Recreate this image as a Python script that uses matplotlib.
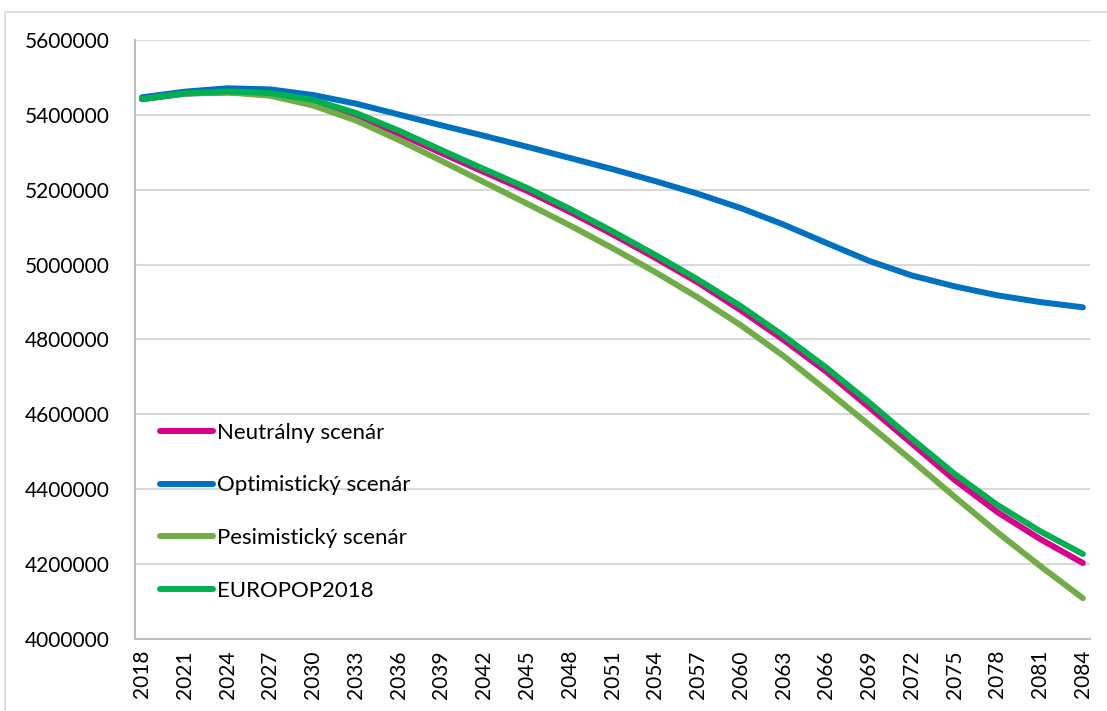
import matplotlib
matplotlib.use("Agg")
import matplotlib.pyplot as plt
from matplotlib.patches import Rectangle

plt.rcParams['font.family'] = ['Lato', 'DejaVu Sans']

years = [2018, 2021, 2024, 2027, 2030, 2033, 2036, 2039, 2042, 2045, 2048, 2051,
         2054, 2057, 2060, 2063, 2066, 2069, 2072, 2075, 2078, 2081, 2084]

neutralny = [5442000, 5457000, 5460000, 5455000, 5435000, 5397000, 5350000, 5298000,
             5247000, 5197000, 5141000, 5081000, 5018000, 4952000, 4878000, 4799000,
             4714000, 4619000, 4522000, 4425000, 4339000, 4267000, 4203000]

optimisticky = [5447000, 5462000, 5471000, 5468000, 5453000, 5430000, 5401000, 5372000,
                5344000, 5315000, 5285000, 5255000, 5223000, 5189000, 5151000, 5107000,
                5058000, 5010000, 4971000, 4942000, 4918000, 4900000, 4886000]

pesimisticky = [5442000, 5457000, 5460000, 5451000, 5425000, 5385000, 5333000, 5277000,
                5220000, 5163000, 5105000, 5044000, 4980000, 4912000, 4838000, 4756000,
                4665000, 4572000, 4477000, 4380000, 4285000, 4195000, 4109000]

europop = [5442000, 5457000, 5463000, 5458000, 5440000, 5405000, 5358000, 5306000,
           5255000, 5205000, 5149000, 5089000, 5026000, 4960000, 4889000, 4810000,
           4725000, 4632000, 4535000, 4441000, 4358000, 4288000, 4227000]

series = [
    ("Neutrálny scenár", neutralny, "#D9008D"),
    ("Optimistický scenár", optimisticky, "#0070C0"),
    ("Pesimistický scenár", pesimisticky, "#70AD47"),
    ("EUROPOP2018", europop, "#00B050"),
]

y_ticks = [4000000, 4200000, 4400000, 4600000, 4800000, 5000000, 5200000, 5400000, 5600000]

W, H = 1107, 711
fig = plt.figure(figsize=(W / 100, H / 100), dpi=100)
fig.patch.set_facecolor("white")

# outer chart frame
fig.add_artist(Rectangle((5 / W, -0.01), 1.02, (H - 12) / H + 0.01,
                         transform=fig.transFigure, fill=False,
                         edgecolor="#D9D9D9", linewidth=1.2))

ax = fig.add_axes([135 / W, (H - 639) / H, (1090 - 135) / W, (639 - 40) / H])

for label, vals, color in series:
    ax.plot(years, vals, color=color, linewidth=4.3, label=label,
            solid_capstyle="round", solid_joinstyle="round")

ax.set_xlim(2017.5, 2084.5)
ax.set_ylim(4000000, 5600000)
ax.set_yticks(y_ticks)
ax.set_yticklabels([str(v) for v in y_ticks])
ax.set_xticks(years)
ax.set_xticklabels([str(y) for y in years], rotation=90)

ax.grid(axis="y", color="#D9D9D9", linewidth=1.5)
ax.set_axisbelow(True)
ax.tick_params(axis="both", length=0, labelsize=15, colors="black")
ax.tick_params(axis="y", pad=18)
ax.tick_params(axis="x", pad=8)

for side in ("top", "right"):
    ax.spines[side].set_visible(False)
for side in ("left", "bottom"):
    ax.spines[side].set_color("#BFBFBF")
    ax.spines[side].set_linewidth(1.5)

leg = ax.legend(loc="upper left", bbox_to_anchor=(0.026, 0.361), frameon=False,
                fontsize=16, handlelength=2.39, handletextpad=0.18,
                labelspacing=1.47, borderpad=0, borderaxespad=0)
for line in leg.get_lines():
    line.set_linewidth(4.3)
    line.set_solid_capstyle("round")

fig.savefig("out.png", dpi=100, facecolor="white")
